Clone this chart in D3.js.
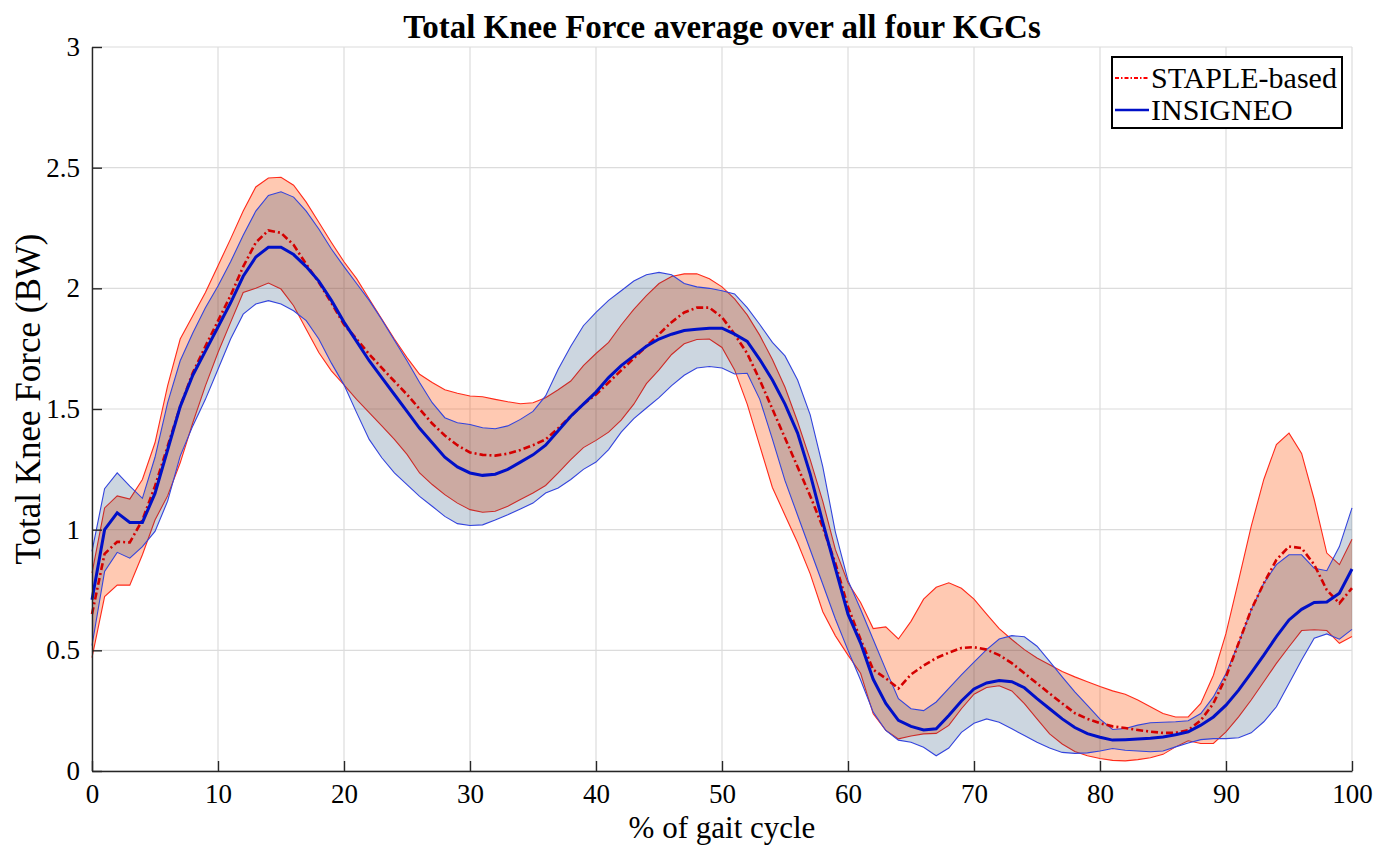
<!DOCTYPE html>
<html>
<head>
<meta charset="utf-8">
<script src="https://cdn.jsdelivr.net/npm/d3@7"></script>
<style>
  body { margin: 0; background: #fff; }
  text { font-family: "Liberation Serif", "Times New Roman", serif; fill: #000; }
</style>
</head>
<body>
<div id="chart"></div>
<script>
// gait cycle, sampled every 1 %
const gaitPct = d3.range(0, 101);

const stapleMean = [
  0.65, 0.90, 0.95, 0.947, 1.04, 1.18, 1.345, 1.51, 1.65, 1.76, 1.865,
  1.97, 2.09, 2.19, 2.24, 2.23, 2.18, 2.10, 2.025, 1.94, 1.85,
  1.79, 1.727, 1.67, 1.615, 1.56, 1.50, 1.44, 1.39, 1.35, 1.32,
  1.31, 1.307, 1.315, 1.33, 1.35, 1.374, 1.42, 1.47, 1.52, 1.56,
  1.61, 1.66, 1.71, 1.76, 1.81, 1.86, 1.90, 1.92, 1.92, 1.88,
  1.81, 1.73, 1.62, 1.50, 1.38, 1.26, 1.14, 1.01, 0.86, 0.68,
  0.545, 0.42, 0.384, 0.342, 0.40, 0.437, 0.468, 0.49, 0.51, 0.513,
  0.503, 0.48, 0.447, 0.405, 0.363, 0.321, 0.28, 0.24, 0.216, 0.198,
  0.185, 0.178, 0.17, 0.163, 0.158, 0.158, 0.169, 0.21, 0.28, 0.39,
  0.53, 0.668, 0.778, 0.875, 0.93, 0.924, 0.855, 0.75, 0.695, 0.758
];
const stapleUpper = [
  0.82, 1.09, 1.14, 1.127, 1.208, 1.36, 1.596, 1.79, 1.886, 1.983, 2.094,
  2.205, 2.32, 2.42, 2.457, 2.46, 2.427, 2.357, 2.274, 2.19, 2.11,
  2.04, 1.956, 1.873, 1.79, 1.713, 1.644, 1.61, 1.58, 1.565, 1.554,
  1.551, 1.54, 1.53, 1.522, 1.526, 1.547, 1.58, 1.616, 1.68, 1.73,
  1.776, 1.848, 1.913, 1.97, 2.02, 2.049, 2.06, 2.06, 2.04, 2.006,
  1.956, 1.89, 1.805, 1.705, 1.59, 1.447, 1.29, 1.117, 0.917, 0.78,
  0.698, 0.59, 0.597, 0.547, 0.62, 0.712, 0.761, 0.78, 0.757, 0.712,
  0.65, 0.59, 0.545, 0.503, 0.468, 0.44, 0.412, 0.39, 0.37, 0.35,
  0.332, 0.318, 0.294, 0.266, 0.238, 0.224, 0.224, 0.28, 0.397, 0.57,
  0.79, 1.014, 1.208, 1.353, 1.40, 1.316, 1.125, 0.903, 0.855, 0.96
];
const stapleLower = [
  0.47, 0.723, 0.77, 0.77, 0.896, 1.04, 1.14, 1.277, 1.443, 1.596, 1.734,
  1.859, 1.983, 2.0, 2.022, 1.997, 1.928, 1.83, 1.734, 1.658, 1.60,
  1.54, 1.485, 1.43, 1.374, 1.312, 1.235, 1.187, 1.145, 1.11, 1.083,
  1.072, 1.076, 1.097, 1.125, 1.152, 1.183, 1.235, 1.29, 1.34, 1.37,
  1.404, 1.454, 1.52, 1.605, 1.662, 1.726, 1.77, 1.788, 1.79, 1.755,
  1.662, 1.52, 1.347, 1.175, 1.06, 0.946, 0.817, 0.66, 0.56, 0.48,
  0.405, 0.237, 0.168, 0.133, 0.145, 0.154, 0.156, 0.189, 0.258, 0.318,
  0.346, 0.353, 0.332, 0.279, 0.216, 0.154, 0.112, 0.081, 0.063, 0.052,
  0.044, 0.042, 0.047, 0.055, 0.069, 0.10, 0.125, 0.114, 0.114, 0.162,
  0.224, 0.294, 0.37, 0.446, 0.515, 0.582, 0.585, 0.582, 0.529, 0.557
];

const insigneoMean = [
  0.71, 1.00, 1.07, 1.03, 1.03, 1.15, 1.33, 1.51, 1.64, 1.74, 1.84,
  1.94, 2.05, 2.13, 2.17, 2.17, 2.14, 2.09, 2.03, 1.95, 1.86,
  1.78, 1.70, 1.63, 1.56, 1.49, 1.42, 1.36, 1.30, 1.26, 1.235,
  1.225, 1.23, 1.25, 1.28, 1.31, 1.35, 1.41, 1.47, 1.52, 1.57,
  1.63, 1.68, 1.72, 1.76, 1.79, 1.81, 1.825, 1.83, 1.835, 1.835,
  1.81, 1.78, 1.705, 1.62, 1.52, 1.40, 1.23, 1.03, 0.84, 0.65,
  0.53, 0.38, 0.28, 0.21, 0.185, 0.17, 0.175, 0.23, 0.29, 0.34,
  0.365, 0.375, 0.37, 0.345, 0.30, 0.258, 0.216, 0.18, 0.155, 0.14,
  0.128, 0.13, 0.133, 0.136, 0.141, 0.15, 0.162, 0.19, 0.224, 0.273,
  0.335, 0.407, 0.48, 0.557, 0.626, 0.67, 0.698, 0.70, 0.737, 0.837
];
const insigneoUpper = [
  0.91, 1.17, 1.235, 1.18, 1.13, 1.30, 1.525, 1.70, 1.815, 1.92, 2.01,
  2.11, 2.22, 2.32, 2.385, 2.40, 2.378, 2.32, 2.246, 2.163, 2.09,
  2.02, 1.95, 1.87, 1.785, 1.70, 1.61, 1.526, 1.464, 1.443, 1.436,
  1.422, 1.418, 1.43, 1.457, 1.49, 1.554, 1.665, 1.76, 1.845, 1.90,
  1.95, 1.99, 2.03, 2.056, 2.066, 2.056, 2.02, 2.006, 2.0, 1.99,
  1.977, 1.92, 1.85, 1.776, 1.72, 1.62, 1.476, 1.26, 0.99, 0.79,
  0.67, 0.545, 0.42, 0.30, 0.258, 0.25, 0.286, 0.342, 0.398, 0.451,
  0.503, 0.547, 0.561, 0.556, 0.517, 0.454, 0.39, 0.328, 0.272, 0.215,
  0.172, 0.176, 0.19, 0.20, 0.202, 0.204, 0.208, 0.238, 0.307, 0.404,
  0.53, 0.668, 0.778, 0.855, 0.896, 0.896, 0.84, 0.83, 0.93, 1.09
];
const insigneoLower = [
  0.52, 0.827, 0.906, 0.882, 0.93, 0.993, 1.118, 1.305, 1.43, 1.54, 1.665,
  1.79, 1.893, 1.935, 1.949, 1.935, 1.907, 1.866, 1.79, 1.69, 1.60,
  1.485, 1.374, 1.298, 1.235, 1.187, 1.138, 1.097, 1.055, 1.025, 1.017,
  1.02, 1.04, 1.062, 1.086, 1.11, 1.152, 1.173, 1.208, 1.25, 1.28,
  1.332, 1.404, 1.46, 1.504, 1.547, 1.597, 1.64, 1.67, 1.676, 1.67,
  1.645, 1.648, 1.54, 1.375, 1.203, 1.06, 0.917, 0.774, 0.63, 0.50,
  0.377, 0.244, 0.168, 0.128, 0.119, 0.098, 0.063, 0.095, 0.16, 0.198,
  0.216, 0.202, 0.175, 0.147, 0.119, 0.095, 0.077, 0.073, 0.075, 0.083,
  0.093, 0.086, 0.083, 0.08, 0.083, 0.10, 0.116, 0.13, 0.134, 0.134,
  0.138, 0.158, 0.204, 0.266, 0.363, 0.46, 0.55, 0.568, 0.546, 0.587
];

const xTicks = [0, 10, 20, 30, 40, 50, 60, 70, 80, 90, 100];
const yTicks = [0, 0.5, 1, 1.5, 2, 2.5, 3];
const seriesNames = ["STAPLE-based", "INSIGNEO"];

const margin = ({top: 47, right: 38, bottom: 78, left: 92});
const width = 1390 - margin.left - margin.right, height = 849 - margin.top - margin.bottom;

const svg = d3.select("#chart")
  .append("svg")
  .attr("width", 1390)
  .attr("height", 849);

const g = svg.append("g")
  .attr("transform", `translate(${margin.left}, ${margin.top})`);

const xScale = d3.scaleLinear().domain([0, 100]).range([0, width]);
const yScale = d3.scaleLinear().domain([0, 3]).range([height, 0]);

// grid
g.append("g").attr("class", "grid")
  .selectAll("line.gx").data(xTicks).join("line")
  .attr("x1", d => xScale(d)).attr("x2", d => xScale(d))
  .attr("y1", 0).attr("y2", height)
  .attr("stroke", "#dcdcdc").attr("stroke-width", 1.2);
g.append("g").attr("class", "grid")
  .selectAll("line.gy").data(yTicks).join("line")
  .attr("x1", 0).attr("x2", width)
  .attr("y1", d => yScale(d)).attr("y2", d => yScale(d))
  .attr("stroke", "#dcdcdc").attr("stroke-width", 1.2);

const rows = gaitPct.map((p, i) => ({
  p,
  sm: stapleMean[i], su: stapleUpper[i], sl: stapleLower[i],
  im: insigneoMean[i], iu: insigneoUpper[i], il: insigneoLower[i]
}));

const band = (hi, lo) => d3.area()
  .x(d => xScale(d.p))
  .y0(d => yScale(d[lo]))
  .y1(d => yScale(d[hi]));
const line = key => d3.line()
  .x(d => xScale(d.p))
  .y(d => yScale(d[key]));

// STAPLE band
g.append("path").datum(rows)
  .attr("d", band("su", "sl"))
  .attr("fill", "rgb(255,77,0)").attr("fill-opacity", 0.3);
["su", "sl"].forEach(k => g.append("path").datum(rows)
  .attr("d", line(k)).attr("fill", "none")
  .attr("stroke", "#ff2a1a").attr("stroke-width", 1.1));

// INSIGNEO band
g.append("path").datum(rows)
  .attr("d", band("iu", "il"))
  .attr("fill", "rgb(0,51,102)").attr("fill-opacity", 0.2);
["iu", "il"].forEach(k => g.append("path").datum(rows)
  .attr("d", line(k)).attr("fill", "none")
  .attr("stroke", "#3344dd").attr("stroke-width", 1.1));

// means
g.append("path").datum(rows)
  .attr("d", line("sm")).attr("fill", "none")
  .attr("stroke", "#d40000").attr("stroke-width", 2.6)
  .attr("stroke-dasharray", "7,3,2,3");
g.append("path").datum(rows)
  .attr("d", line("im")).attr("fill", "none")
  .attr("stroke", "#0010c8").attr("stroke-width", 3);

// axes
const xAxis = d3.axisBottom(xScale).tickValues(xTicks)
  .tickSizeInner(-10).tickSizeOuter(0).tickPadding(10);
const yAxis = d3.axisLeft(yScale).tickValues(yTicks)
  .tickFormat(d3.format("~g"))
  .tickSizeInner(-10).tickSizeOuter(0).tickPadding(12);

g.append("g").attr("class", "x-axis")
  .attr("transform", `translate(0, ${height})`)
  .call(xAxis);
g.append("g").attr("class", "y-axis").call(yAxis);

g.selectAll(".x-axis path, .y-axis path, .x-axis line, .y-axis line")
  .attr("stroke", "#262626").attr("stroke-width", 1.4);
g.selectAll(".x-axis text, .y-axis text")
  .attr("font-family", "Liberation Serif, serif")
  .attr("font-size", 27).attr("fill", "#000");
g.selectAll(".x-axis text").attr("dy", "0.8em");

// titles
svg.append("text")
  .attr("x", margin.left + width / 2).attr("y", 38)
  .attr("text-anchor", "middle")
  .attr("font-size", 33).attr("font-weight", "bold")
  .text("Total Knee Force average over all four KGCs");

svg.append("text")
  .attr("transform", `translate(40, ${margin.top + height / 2 - 10}) rotate(-90)`)
  .attr("text-anchor", "middle")
  .attr("font-size", 35)
  .text("Total Knee Force (BW)");

svg.append("text")
  .attr("x", margin.left + width / 2).attr("y", 838)
  .attr("text-anchor", "middle")
  .attr("font-size", 31)
  .text("% of gait cycle");

// legend
const legend = svg.append("g").attr("transform", "translate(1112, 57)");
legend.append("rect")
  .attr("width", 230).attr("height", 71)
  .attr("fill", "#fff").attr("stroke", "#000").attr("stroke-width", 2);
const legendStyles = [
  {color: "#ff0000", dash: "4,2,1.5,2", w: 2},
  {color: "#0010c8", dash: null, w: 2.5}
];
seriesNames.forEach((name, i) => {
  const y = 21 + i * 32;
  legend.append("line")
    .attr("x1", 3).attr("x2", 37).attr("y1", y).attr("y2", y)
    .attr("stroke", legendStyles[i].color)
    .attr("stroke-width", legendStyles[i].w)
    .attr("stroke-dasharray", legendStyles[i].dash);
  legend.append("text")
    .attr("x", 39).attr("y", y + 10)
    .attr("font-size", 30)
    .text(name);
});
</script>
</body>
</html>
